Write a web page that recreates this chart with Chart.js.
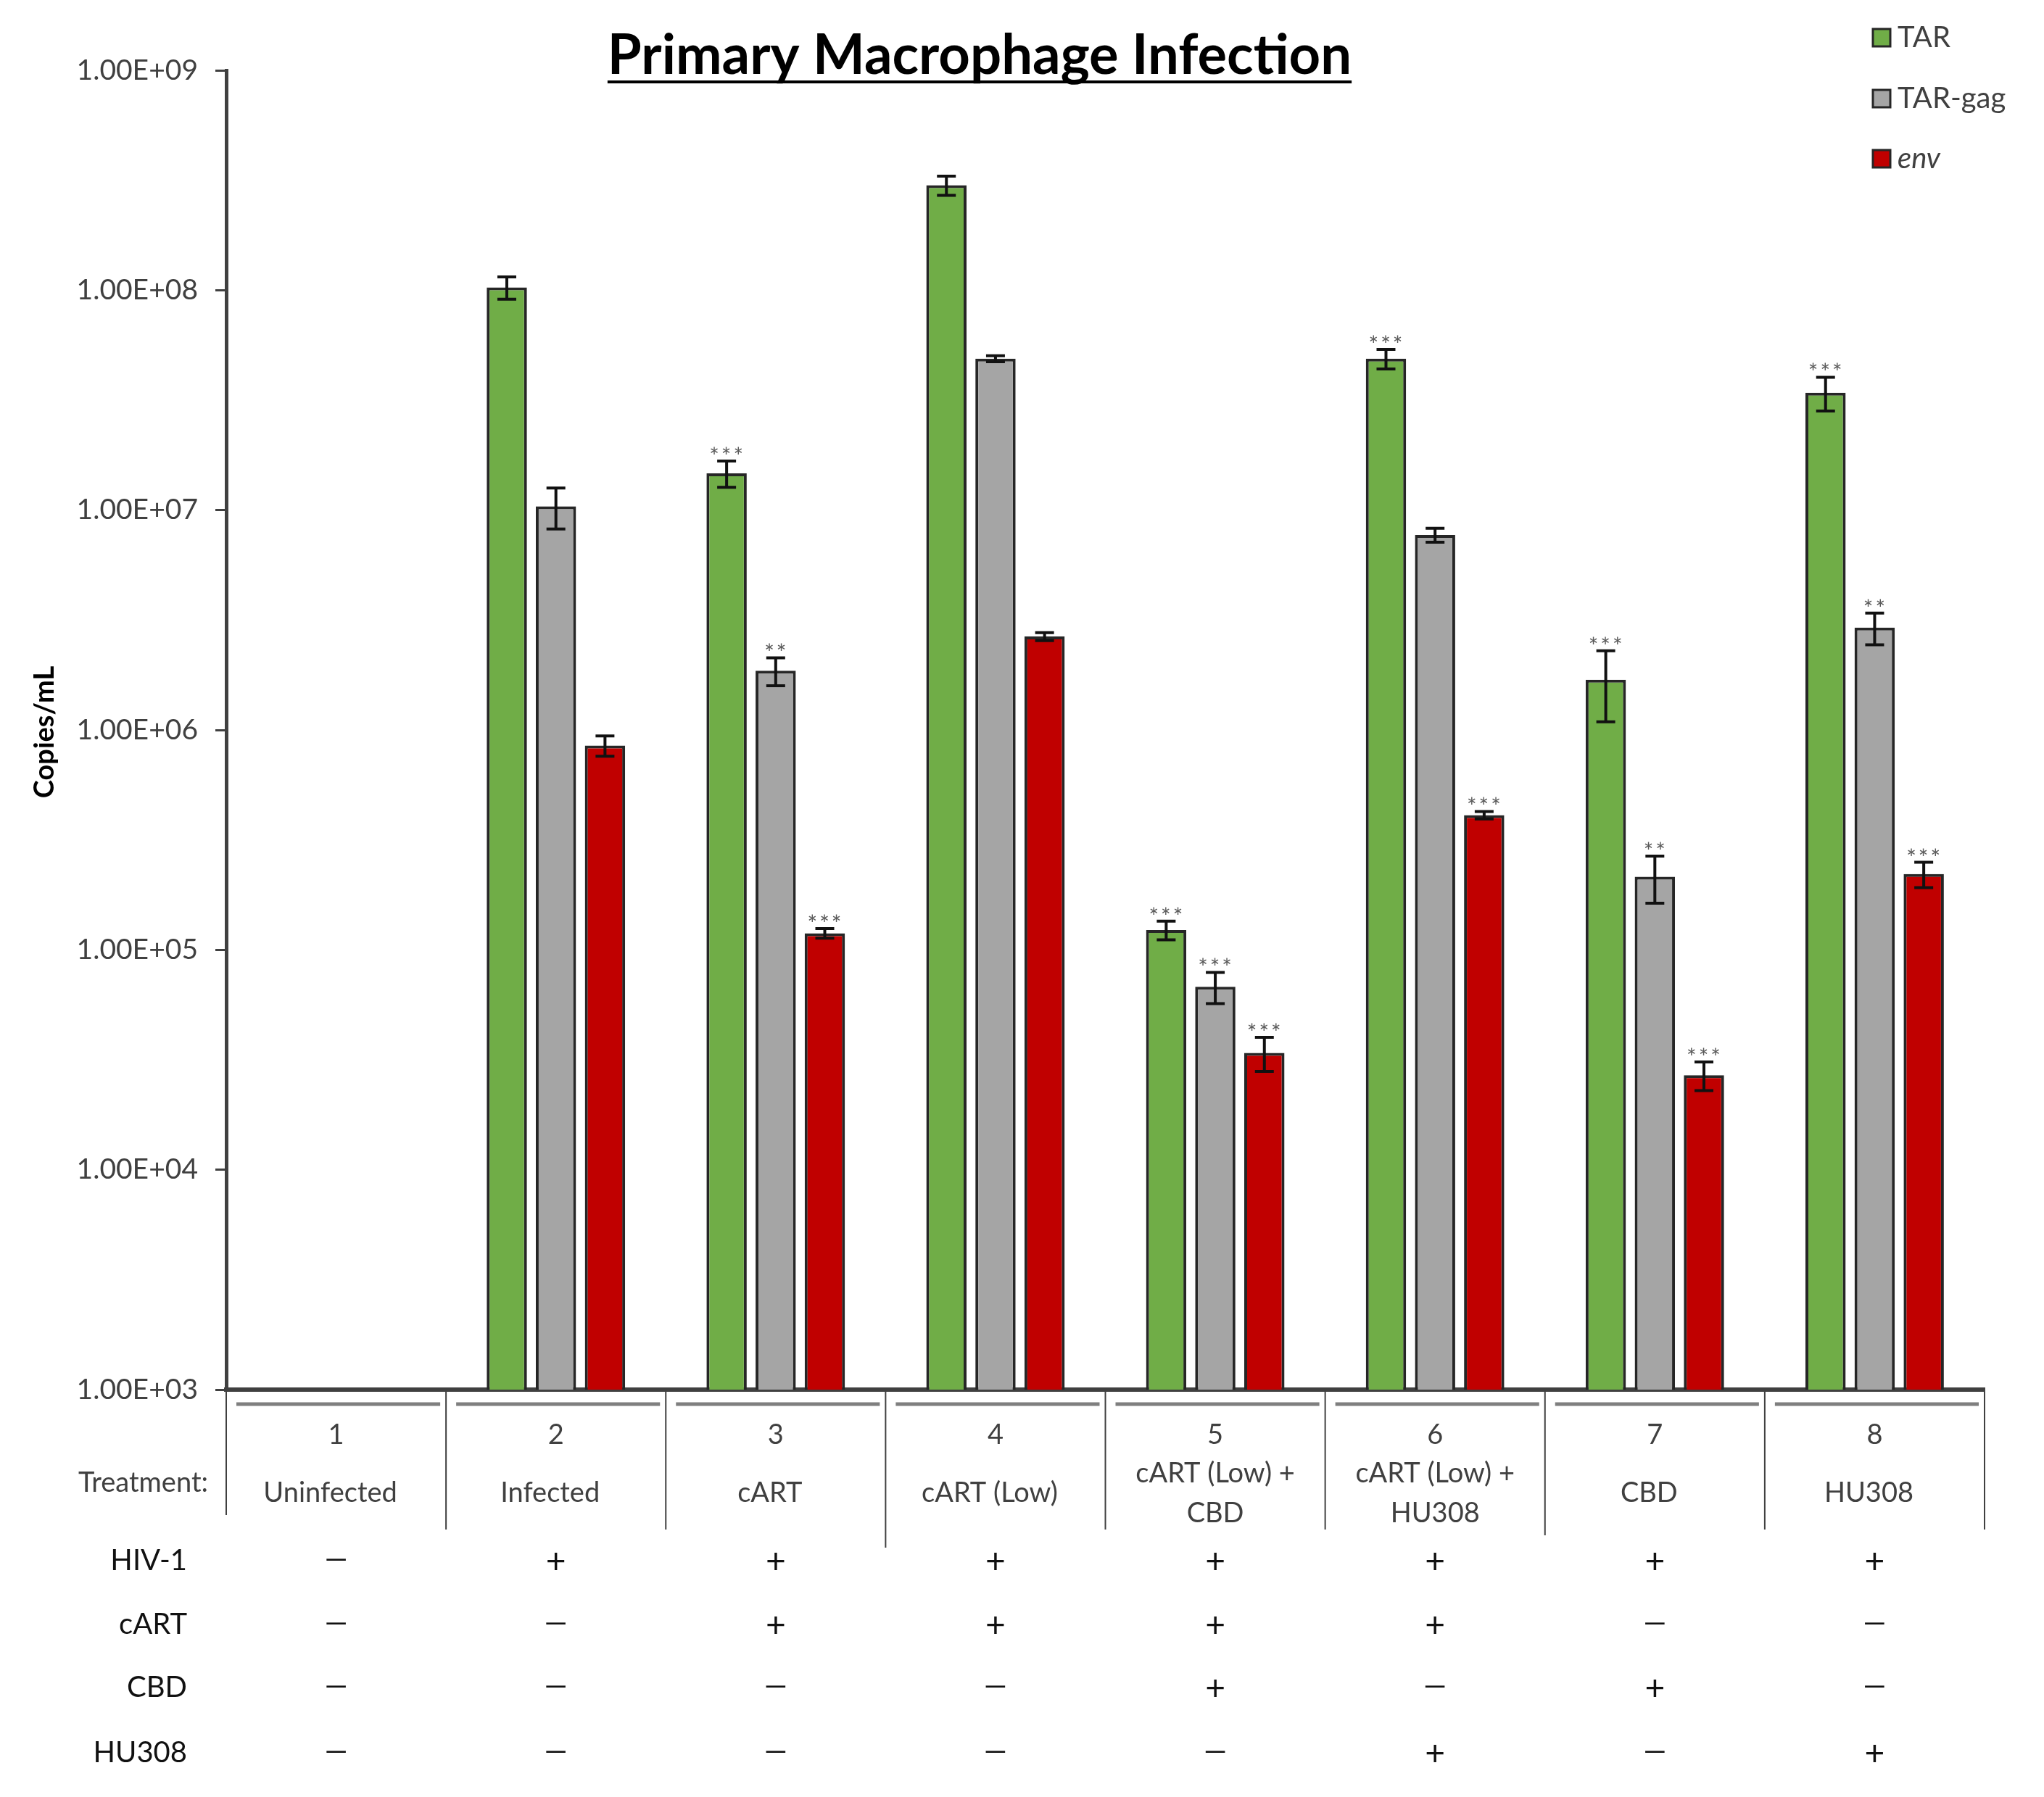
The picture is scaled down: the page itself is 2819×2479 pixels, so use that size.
<!DOCTYPE html>
<html>
<head>
<meta charset="utf-8">
<script src="https://cdn.jsdelivr.net/npm/chart.js@4"></script>
<style>
  html, body { margin: 0; padding: 0; background: #fff; }
  #wrap { width: 2819px; height: 2479px; }
</style>
</head>
<body>
<div id="wrap"><canvas id="c" width="2819" height="2479"></canvas></div>
<script>
// ---- data ----
const categories = ['1', '2', '3', '4', '5', '6', '7', '8'];
const treatmentNames = [['Uninfected'], ['Infected'], ['cART'], ['cART (Low)'], ['cART (Low) +', 'CBD'], ['cART (Low) +', 'HU308'], ['CBD'], ['HU308']];
const seriesNames = ['TAR', 'TAR-gag', 'env'];
const tarValues    = [null, 1.03e8, 1.47e7, 3.0e8, 1.23e5, 4.88e7, 1.69e6, 3.42e7];
const tarErrors    = [null, 1.2e7, 2.0e6, 3.0e7, 1.2e4, 5.0e6, 6.0e5, 6.0e6];
const tarGagValues = [null, 1.04e7, 1.86e6, 4.88e7, 6.8e4, 7.7e6, 2.15e5, 2.92e6];
const tarGagErrors = [null, 2.2e6, 2.7e5, 1.5e6, 1.1e4, 5.6e5, 5.2e4, 4.8e5];
const envValues    = [null, 8.5e5, 1.19e5, 2.66e6, 3.4e4, 4.1e5, 2.69e4, 2.21e5];
const envErrors    = [null, 9.0e4, 6.0e3, 1.1e5, 6.0e3, 1.6e4, 4.0e3, 2.9e4];
const tarSig    = ['', '', '***', '', '***', '***', '***', '***'];
const tarGagSig = ['', '', '**', '', '***', '', '**', '**'];
const envSig    = ['', '', '***', '', '***', '***', '***', '***'];
const rowLabels = ['HIV-1', 'cART', 'CBD', 'HU308'];
const hiv1Row  = ['-', '+', '+', '+', '+', '+', '+', '+'];
const cartRow  = ['-', '-', '+', '+', '+', '+', '-', '-'];
const cbdRow   = ['-', '-', '-', '-', '+', '-', '+', '-'];
const hu308Row = ['-', '-', '-', '-', '-', '+', '-', '+'];
const yTickValues = [1e3, 1e4, 1e5, 1e6, 1e7, 1e8, 1e9];

const FONT = 'Lato, "Open Sans", sans-serif';
const colors = ['#70AD47', '#A5A5A5', '#C00000'];
const errors = [tarErrors, tarGagErrors, envErrors];
const sigs = [tarSig, tarGagSig, envSig];
const rows = [hiv1Row, cartRow, cbdRow, hu308Row];

const overlay = {
  id: 'overlay',
  afterDatasetsDraw(chart) {
    const ctx = chart.ctx, y = chart.scales.y;
    ctx.save();
    chart.data.datasets.forEach((ds, i) => {
      const meta = chart.getDatasetMeta(i);
      meta.data.forEach((bar, j) => {
        const v = ds.data[j];
        if (v == null) return;
        const e = errors[i][j];
        const yt = y.getPixelForValue(v + e), yb = y.getPixelForValue(v - e);
        const cap = 13;
        ctx.strokeStyle = '#111'; ctx.lineWidth = 4;
        ctx.beginPath();
        ctx.moveTo(bar.x, yt); ctx.lineTo(bar.x, yb);
        ctx.moveTo(bar.x - cap, yt); ctx.lineTo(bar.x + cap, yt);
        ctx.moveTo(bar.x - cap, yb); ctx.lineTo(bar.x + cap, yb);
        ctx.stroke();
        const s = sigs[i][j];
        if (s) {
          ctx.fillStyle = '#595959';
          ctx.font = '32px ' + FONT;
          ctx.letterSpacing = '3px';
          ctx.textAlign = 'center'; ctx.textBaseline = 'alphabetic';
          ctx.fillText(s, bar.x + 1, yt + 5);
          ctx.letterSpacing = '0px';
        }
      });
    });
    ctx.restore();
  },
  afterDraw(chart) {
    const ctx = chart.ctx, x = chart.scales.x, area = chart.chartArea;
    ctx.save();
    // title
    ctx.fillStyle = '#000';
    ctx.font = 'bold 76px ' + FONT;
    ctx.textAlign = 'center'; ctx.textBaseline = 'alphabetic';
    const title = 'Primary Macrophage Infection';
    const tx = 1351, ty = 102;
    ctx.fillText(title, tx, ty);
    const tw = ctx.measureText(title).width;
    ctx.fillRect(tx - tw / 2, ty + 9, tw, 4);
    // legend
    ctx.textAlign = 'left'; ctx.textBaseline = 'middle';
    const ly = [52, 136, 219];
    seriesNames.forEach((n, i) => {
      ctx.fillStyle = colors[i];
      ctx.fillRect(2583, ly[i] - 12, 24, 24);
      ctx.strokeStyle = '#262626'; ctx.lineWidth = 3;
      ctx.strokeRect(2583, ly[i] - 12, 24, 24);
      ctx.fillStyle = '#404040';
      ctx.font = (i === 2 ? 'italic ' : '') + '40px ' + FONT;
      ctx.fillText(n, 2617, ly[i]);
    });
    // y axis title
    ctx.save();
    ctx.translate(62, 1010);
    ctx.rotate(-Math.PI / 2);
    ctx.fillStyle = '#000';
    ctx.font = 'bold 38px ' + FONT;
    ctx.textAlign = 'center'; ctx.textBaseline = 'middle';
    ctx.fillText('Copies/mL', 0, 0);
    ctx.restore();
    // table
    const n = categories.length;
    const cw = (area.right - area.left) / n;
    ctx.strokeStyle = '#404040'; ctx.lineWidth = 2;
    const sepBottoms = [2090, 2110, 2110, 2135, 2110, 2110, 2118, 2110, 2110];
    for (let k = 0; k <= n; k++) {
      const bx = area.left + k * cw;
      ctx.beginPath(); ctx.moveTo(bx, area.bottom); ctx.lineTo(bx, sepBottoms[k]); ctx.stroke();
    }
    ctx.strokeStyle = '#7f7f7f'; ctx.lineWidth = 5;
    for (let k = 0; k < n; k++) {
      const bx = area.left + k * cw;
      ctx.beginPath(); ctx.moveTo(bx + 14, 1937); ctx.lineTo(bx + cw - 8, 1937); ctx.stroke();
    }
    ctx.fillStyle = '#404040';
    ctx.font = '38px ' + FONT;
    ctx.textAlign = 'center'; ctx.textBaseline = 'middle';
    categories.forEach((c, j) => {
      const cx = x.getPixelForValue(j);
      ctx.fillText(c, cx, 1980);
      const t = treatmentNames[j];
      if (t.length === 1) ctx.fillText(t[0], cx - 8, 2060);
      else { ctx.fillText(t[0], cx, 2033); ctx.fillText(t[1], cx, 2088); }
    });
    ctx.textAlign = 'right';
    ctx.fillText('Treatment:', 287, 2046);
    // +/- rows
    const rowY = [2153, 2241, 2328, 2418];
    rows.forEach((r, ri) => {
      ctx.fillStyle = '#111';
      ctx.font = '40px ' + FONT;
      ctx.textAlign = 'right';
      ctx.fillText(rowLabels[ri], 258, rowY[ri]);
      ctx.textAlign = 'center';
      r.forEach((m, j) => {
        const cx = x.getPixelForValue(j);
        if (m === '+') { ctx.font = '48px ' + FONT; ctx.fillText('+', cx, rowY[ri] + 2); }
        else { ctx.font = '40px ' + FONT; ctx.fillText('\u2014', cx, rowY[ri] - 2); }
      });
    });
    ctx.restore();
  }
};

const chart = new Chart(document.getElementById('c'), {
  type: 'bar',
  data: {
    labels: categories,
    datasets: [
      { label: seriesNames[0], data: tarValues,    backgroundColor: colors[0] },
      { label: seriesNames[1], data: tarGagValues, backgroundColor: colors[1] },
      { label: seriesNames[2], data: envValues,    backgroundColor: colors[2] }
    ].map(d => Object.assign(d, { borderColor: '#262626', borderWidth: 4, categoryPercentage: 0.67, barPercentage: 0.82 }))
  },
  options: {
    responsive: false,
    devicePixelRatio: 1,
    animation: false,
    layout: { padding: { left: 0, right: 82, top: 97, bottom: 562 } },
    plugins: { legend: { display: false }, title: { display: false }, tooltip: { enabled: false } },
    scales: {
      x: {
        ticks: { display: false },
        grid: { display: false, drawTicks: false },
        border: { display: true, color: '#404040', width: 6 },
        afterFit(s) { s.height = 0; }
      },
      y: {
        type: 'logarithmic',
        min: 1e3, max: 1e9,
        afterBuildTicks(s) { s.ticks = yTickValues.map(v => ({ value: v })); },
        afterFit(s) { s.width = 312; },
        ticks: {
          padding: 24,
          color: '#404040',
          font: { family: FONT, size: 39 },
          callback: v => {
            const e = Math.round(Math.log10(v));
            return '1.00E+' + String(e).padStart(2, '0');
          }
        },
        grid: { drawOnChartArea: false, drawTicks: true, tickLength: 15, color: '#404040', lineWidth: 3 },
        border: { display: true, color: '#404040', width: 5 }
      }
    }
  },
  plugins: [overlay]
});
</script>
</body>
</html>
